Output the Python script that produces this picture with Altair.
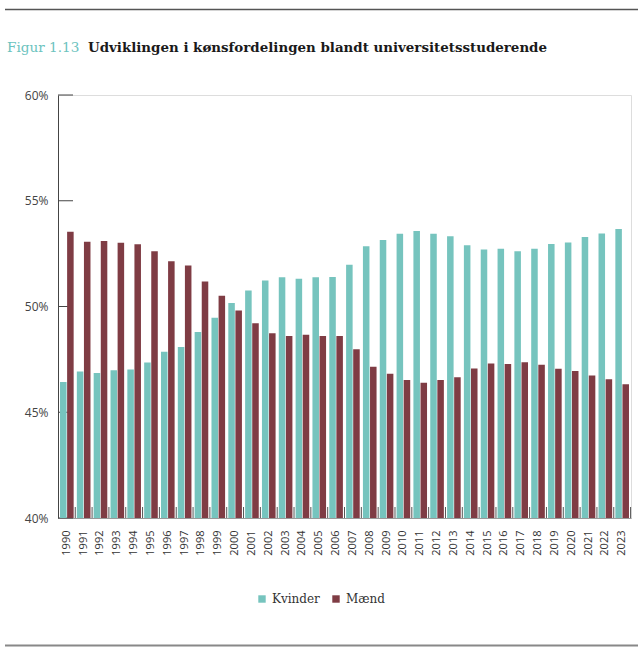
import altair as alt
import pandas as pd

# Andel af universitetsstuderende fordelt på køn (procent)
years = [str(y) for y in range(1990, 2024)]
kvinder = [46.43, 46.93, 46.85, 46.98, 47.02, 47.35, 47.86, 48.08, 48.79, 49.47,
           50.17, 50.76, 51.23, 51.38, 51.31, 51.38, 51.40, 51.97, 52.85, 53.15,
           53.44, 53.57, 53.44, 53.32, 52.90, 52.69, 52.73, 52.61, 52.73, 52.95,
           53.03, 53.29, 53.45, 53.66]
maend = [53.53, 53.06, 53.10, 53.02, 52.94, 52.61, 52.14, 51.94, 51.18, 50.51,
         49.81, 49.21, 48.74, 48.61, 48.66, 48.61, 48.60, 47.98, 47.15, 46.82,
         46.52, 46.39, 46.52, 46.65, 47.07, 47.31, 47.28, 47.36, 47.25, 47.06,
         46.95, 46.74, 46.56, 46.32]
groups = ["Kvinder", "Mænd"]
y_ticks = [40, 45, 50, 55, 60]

fig_label = "Figur 1.13"
fig_title = "Udviklingen i kønsfordelingen blandt universitetsstuderende"

TEAL = "#76C4BE"
MAROON = "#7F3C44"
W, H = 573, 423

df = pd.DataFrame({
    "year": years * 2,
    "gruppe": [groups[0]] * len(years) + [groups[1]] * len(years),
    "andel": kvinder + maend,
})
years_df = pd.DataFrame({"year": years})
ticks_df = pd.DataFrame({"tick": y_ticks})

x_scale = alt.Scale(domain=years, paddingInner=0.19, paddingOuter=0.12)
y_scale = alt.Scale(domain=[40, 60], nice=False, zero=False)
y_axis = alt.Axis(values=y_ticks, labelExpr="datum.value + '%'", ticks=False,
                  labelFont="Open Sans", labelFontSize=12, labelColor="#444",
                  labelPadding=10, domainColor="#444", domainWidth=1, grid=False)

# inward-pointing ticks on the value axis
y_tick_rules = alt.Chart(ticks_df).mark_rule(color="#444", strokeWidth=1).encode(
    y=alt.Y("tick:Q", scale=y_scale, axis=y_axis, title=None),
    x=alt.value(0),
    x2=alt.value(15),
)

bars = alt.Chart(df).mark_bar().encode(
    x=alt.X("year:O", scale=x_scale, title=None,
            axis=alt.Axis(labelAngle=270, labelFont="Open Sans", labelFontSize=11,
                          labelColor="#333", labelPadding=12, ticks=False,
                          domainColor="#999", domainWidth=1, grid=False)),
    xOffset=alt.XOffset("gruppe:N", sort=groups, scale=alt.Scale(paddingInner=0.08)),
    y=alt.Y("andel:Q", scale=y_scale, title=None, axis=y_axis),
    y2=alt.datum(40),
    color=alt.Color("gruppe:N", sort=groups,
                    scale=alt.Scale(domain=groups, range=[TEAL, MAROON]),
                    legend=alt.Legend(title=None, orient="none", legendX=198, legendY=498,
                                      direction="horizontal", symbolType="square",
                                      symbolSize=55, symbolStrokeWidth=0,
                                      labelFont="DejaVu Serif", labelFontSize=12,
                                      labelColor="#333", columnPadding=10, labelOffset=4)),
)

# small category ticks between the year groups, pointing up from the baseline
x_tick_rules = alt.Chart(years_df).mark_rule(color="#555", strokeWidth=1, xOffset=1.6).encode(
    x=alt.X("year:O", scale=x_scale, bandPosition=1),
    y=alt.value(H - 11),
    y2=alt.value(H),
)

label_df = pd.DataFrame({"label": [fig_label]})
title_df = pd.DataFrame({"title": [fig_title]})

fig_label_mark = alt.Chart(label_df).mark_text(
    align="left", baseline="alphabetic", font="DejaVu Serif", fontSize=13.6,
    color="#6CC3BE",
).encode(text="label:N", x=alt.value(-51), y=alt.value(-43))

title_mark = alt.Chart(title_df).mark_text(
    align="left", baseline="alphabetic", font="DejaVu Serif", fontSize=13.4,
    fontWeight="bold", color="#1a1a1a",
).encode(text="title:N", x=alt.value(30), y=alt.value(-43))

top_line = alt.Chart(label_df).mark_rule(color="#555", strokeWidth=1.5).encode(
    x=alt.value(-53), x2=alt.value(580), y=alt.value(-85.5))
bottom_line = alt.Chart(label_df).mark_rule(color="#888", strokeWidth=2).encode(
    x=alt.value(-53), x2=alt.value(580), y=alt.value(550.5))

chart = alt.layer(
    y_tick_rules, bars, x_tick_rules, fig_label_mark, title_mark, top_line, bottom_line
).properties(
    width=W, height=H,
    autosize=alt.AutoSizeParams(type="none"),
    padding={"left": 58, "top": 95, "right": 12, "bottom": 141},
).configure_view(strokeWidth=0).configure(background="white")

chart.save("out.html", embed_options={"renderer": "svg", "actions": False})
